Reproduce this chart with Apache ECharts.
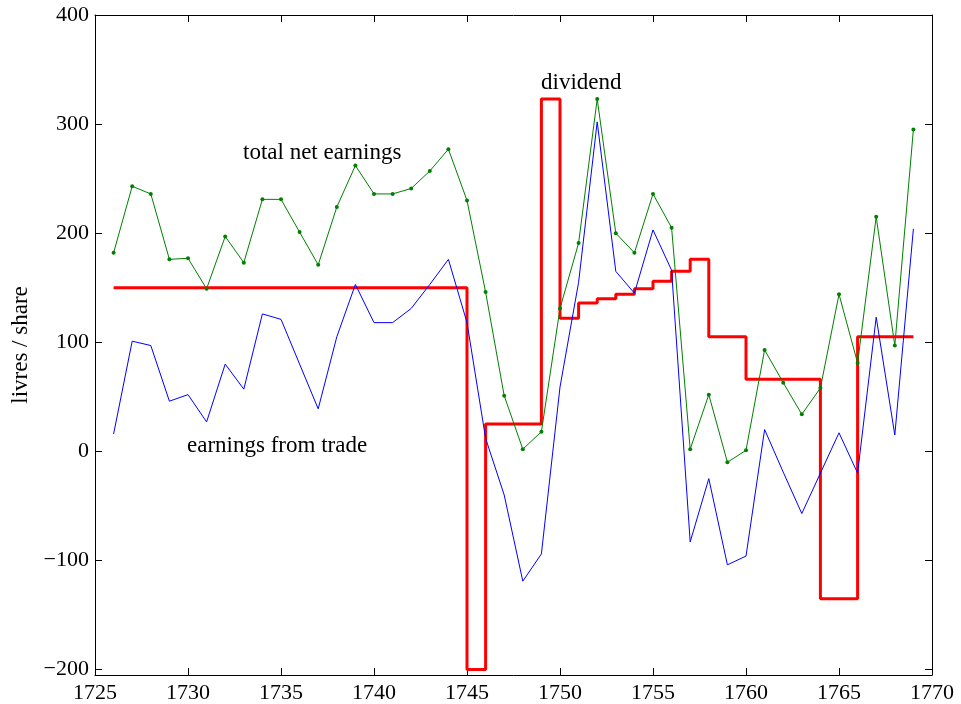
<!DOCTYPE html>
<html>
<head>
<meta charset="utf-8">
<script src="https://cdn.jsdelivr.net/npm/echarts@6/dist/echarts.min.js"></script>
<style>
html,body{margin:0;padding:0;background:#fff;}
#chart{width:961px;height:704px;}
</style>
</head>
<body>
<div id="chart"></div>
<script>
const years = [1726,1727,1728,1729,1730,1731,1732,1733,1734,1735,1736,1737,1738,1739,1740,1741,1742,1743,1744,1745,1746,1747,1748,1749,1750,1751,1752,1753,1754,1755,1756,1757,1758,1759,1760,1761,1762,1763,1764,1765,1766,1767,1768,1769];
const totalNetEarnings = [182,243,236,176,177,149,197,173,231,231,201,171,224,262,236,236,241,257,277,230,146,51,2,18,131,191,323,200,182,236,205,2,52,-10,1,93,63,34,58,144,81,215,97,295];
const earningsFromTrade = [16,101,97,46,52,27,80,57,126,121,80,39,105,153,118,118,131,153,176,118,12,-40,-119,-94,59,155,302,165,145,203,166,-83,-25,-104,-96,20,-19,-57,-20,17,-20,123,15,204];
const dividend = [150,150,150,150,150,150,150,150,150,150,150,150,150,150,150,150,150,150,150,-200,25,25,25,323,122,136,140,144,149,156,165,176,105,105,66,66,66,66,-135,-135,105,105,105,105];
const xTicks = [1725,1730,1735,1740,1745,1750,1755,1760,1765,1770];
const yTicks = [-200,-100,0,100,200,300,400];

const pairs = arr => years.map((y,i)=>[y,arr[i]]);
const FONT = 'Liberation Serif';
const fmt = v => String(v).replace('-', '\u2212');

const chart = echarts.init(document.getElementById('chart'), null, {renderer:'canvas'});

function xAx(pos, showLabel){
  return {
    type:'value', position:pos, min:1725, max:1770, interval:5,
    axisLine:{show:true, onZero:false, lineStyle:{color:'#000', width:1}},
    axisTick:{show:true, inside:true, length:7, customValues:xTicks, lineStyle:{color:'#000'}},
    axisLabel:{show:showLabel, customValues:xTicks, formatter:fmt, color:'#000', fontFamily:FONT, fontSize:22, margin:7, showMinLabel:true, showMaxLabel:true},
    splitLine:{show:false}
  };
}
function yAx(pos, showLabel){
  const a = {
    type:'value', position:pos, min:-205, max:400,
    axisLine:{show:true, onZero:false, lineStyle:{color:'#000', width:1}},
    axisTick:{show:true, inside:true, length:7, customValues:yTicks, lineStyle:{color:'#000'}},
    axisLabel:{show:showLabel, customValues:yTicks, formatter:fmt, color:'#000', fontFamily:FONT, fontSize:22, margin:6},
    splitLine:{show:false}
  };
  if (showLabel){
    a.name = 'livres / share';
    a.nameLocation = 'middle';
    a.nameGap = 60;
    a.nameRotate = 90;
    a.nameTextStyle = {color:'#000', fontFamily:FONT, fontSize:23};
  }
  return a;
}

chart.setOption({
  backgroundColor:'#fff',
  animation:false,
  grid:{left:95, right:29, top:15, bottom:29, containLabel:false},
  xAxis:[xAx('bottom', true), xAx('top', false)],
  yAxis:[yAx('left', true), yAx('right', false)],
  series:[
    {type:'line', name:'dividend', data:pairs(dividend), step:'end', showSymbol:false, symbol:'none',
     lineStyle:{color:'#ff0000', width:3}, itemStyle:{color:'#ff0000'}, z:2},
    {type:'line', name:'earnings from trade', data:pairs(earningsFromTrade), showSymbol:false, symbol:'none',
     lineStyle:{color:'#0000ff', width:1}, itemStyle:{color:'#0000ff'}, z:3},
    {type:'line', name:'total net earnings', data:pairs(totalNetEarnings), symbol:'circle', symbolSize:4, showSymbol:true,
     lineStyle:{color:'#008000', width:1}, itemStyle:{color:'#008000'}, z:4}
  ],
  graphic:[
    {type:'text', left:243, top:141, style:{text:'total net earnings', fill:'#000', font:'23px "Liberation Serif"'}},
    {type:'text', left:187, top:434, style:{text:'earnings from trade', fill:'#000', font:'23px "Liberation Serif"'}},
    {type:'text', left:541, top:71, style:{text:'dividend', fill:'#000', font:'23px "Liberation Serif"'}}
  ]
});
</script>
</body>
</html>
